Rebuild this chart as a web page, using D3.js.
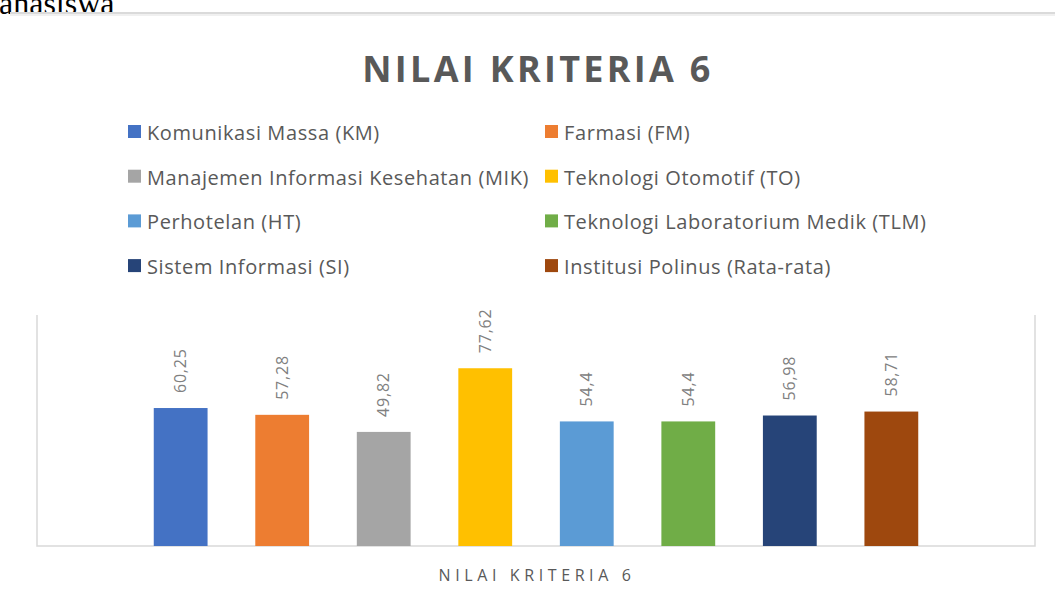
<!DOCTYPE html>
<html>
<head>
<meta charset="utf-8">
<script src="https://cdn.jsdelivr.net/npm/d3@7"></script>
<style>
  body { margin: 0; background: #fff; }
  svg { display: block; }
</style>
</head>
<body>
<svg id="chart" width="1055" height="598"></svg>
<script>
// data
var seriesNames = [
    "Komunikasi Massa (KM)", "Farmasi (FM)",
    "Manajemen Informasi Kesehatan (MIK)", "Teknologi Otomotif (TO)",
    "Perhotelan (HT)", "Teknologi Laboratorium Medik (TLM)",
    "Sistem Informasi (SI)", "Institusi Polinus (Rata-rata)"
];
var seriesValues = [60.25, 57.28, 49.82, 77.62, 54.4, 54.4, 56.98, 58.71];
var seriesColors = ["#4472C4", "#ED7D31", "#A5A5A5", "#FFC000", "#5B9BD5", "#70AD47", "#264478", "#9E480E"];
var chartTitle = "NILAI KRITERIA 6";
var categoryLabel = "NILAI KRITERIA 6";

function fmt(v) {
    return String(v).replace(".", ",");
}

function drawChart() {
    var svg = d3.select("#chart");
    var font = "'Open Sans', 'Noto Sans', sans-serif";

    // leftover text from the page above the chart image
    svg.append("text")
        .attr("x", -1)
        .attr("y", 14)
        .attr("font-family", "'Liberation Serif', 'DejaVu Serif', serif")
        .attr("font-size", 32)
        .attr("fill", "#000")
        .text("ahasiswa");

    svg.append("rect")
        .attr("x", 10).attr("y", 12)
        .attr("width", 1045).attr("height", 2)
        .attr("fill", "#dadada");
    svg.append("rect")
        .attr("x", 10).attr("y", 14)
        .attr("width", 1045).attr("height", 2)
        .attr("fill", "#f0f0f0");

    // title
    svg.append("text")
        .attr("x", 538)
        .attr("y", 82)
        .attr("text-anchor", "middle")
        .attr("font-family", font)
        .attr("font-weight", "bold")
        .attr("font-size", 36)
        .attr("letter-spacing", 3.3)
        .attr("fill", "#595959")
        .text(chartTitle);

    // legend, two columns
    var legend = svg.append("g").attr("class", "legend");
    var item = legend.selectAll("g")
        .data(seriesNames)
        .enter().append("g")
        .attr("transform", function(d, i) {
            var col = i % 2, row = Math.floor(i / 2);
            return "translate(" + (col ? 545 : 128) + "," + (133 + row * 44.7) + ")";
        });
    item.append("rect")
        .attr("x", 0).attr("y", -8)
        .attr("width", 13).attr("height", 13)
        .attr("fill", function(d, i) { return seriesColors[i]; });
    item.append("text")
        .attr("x", 19)
        .attr("y", 0)
        .attr("dy", "0.35em")
        .attr("font-family", font)
        .attr("font-size", 20)
        .attr("letter-spacing", 0.6)
        .attr("fill", "#595959")
        .text(function(d) { return d; });

    // plot area
    var left = 37, right = 1035, top = 315, bottom = 546;

    var x = d3.scaleBand()
        .domain(seriesNames)
        .range([left, right])
        .paddingInner(0.47)
        .paddingOuter(1.15);

    var y = d3.scaleLinear()
        .domain([0, 100])
        .range([bottom, 317]);

    svg.append("path")
        .attr("d", "M" + left + "," + top + "V" + bottom + "H" + right + "V" + top)
        .attr("fill", "none")
        .attr("stroke", "#d9d9d9")
        .attr("stroke-width", 1.5);

    svg.append("g").selectAll("rect")
        .data(seriesValues)
        .enter().append("rect")
        .attr("x", function(d, i) { return x(seriesNames[i]); })
        .attr("y", function(d) { return y(d); })
        .attr("width", x.bandwidth())
        .attr("height", function(d) { return y(0) - y(d); })
        .attr("fill", function(d, i) { return seriesColors[i]; });

    // value labels, rotated
    svg.append("g").selectAll("text")
        .data(seriesValues)
        .enter().append("text")
        .attr("transform", function(d, i) {
            var cx = x(seriesNames[i]) + x.bandwidth() / 2;
            return "translate(" + cx + "," + (y(d) - 15) + ") rotate(-90)";
        })
        .attr("dy", "0.35em")
        .attr("text-anchor", "start")
        .attr("font-family", font)
        .attr("font-size", 16)
        .attr("letter-spacing", 0.8)
        .attr("fill", "#808080")
        .text(function(d) { return fmt(d); });

    // category axis label
    svg.append("text")
        .attr("x", 537)
        .attr("y", 581)
        .attr("text-anchor", "middle")
        .attr("font-family", font)
        .attr("font-size", 16)
        .attr("letter-spacing", 4.6)
        .attr("fill", "#595959")
        .text(categoryLabel);
}

drawChart();
</script>
</body>
</html>
